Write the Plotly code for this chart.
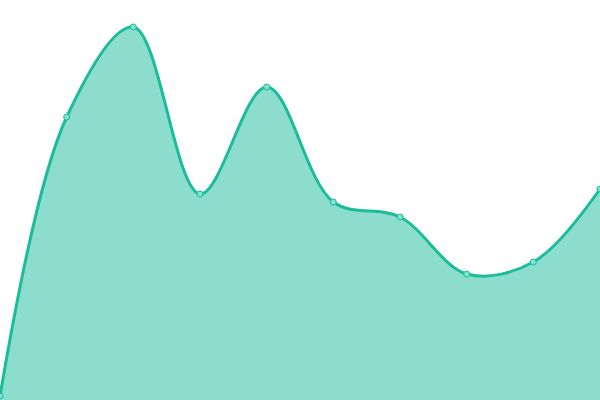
import plotly.graph_objects as go

# Data
x_vals = [0, 1, 2, 3, 4, 5, 6, 7, 8, 9]
y_vals = [4, 283, 373, 206, 313, 198, 183, 126, 138, 211]

fig = go.Figure()

fig.add_trace(
    go.Scatter(
        x=x_vals,
        y=y_vals,
        mode='lines+markers',
        fill='tozeroy',
        fillcolor='rgba(26,188,156,0.5)',
        line=dict(color='#1abc9c', width=3, shape='spline', smoothing=1),
        marker=dict(size=6, color='#7fe3cf', line=dict(color='#1abc9c', width=1)),
        showlegend=False,
    )
)

fig.update_layout(
    width=600,
    height=400,
    margin=dict(l=0, r=0, t=0, b=0),
    paper_bgcolor='white',
    plot_bgcolor='white',
    xaxis=dict(range=[0, 9], visible=False),
    yaxis=dict(range=[0, 400], visible=False),
)

# Drop the default page margin so the chart sits flush in the window.
fig.write_html(
    "out.html",
    config={'displayModeBar': False},
    post_script="document.body.style.margin='0';document.body.style.overflow='hidden';",
)
